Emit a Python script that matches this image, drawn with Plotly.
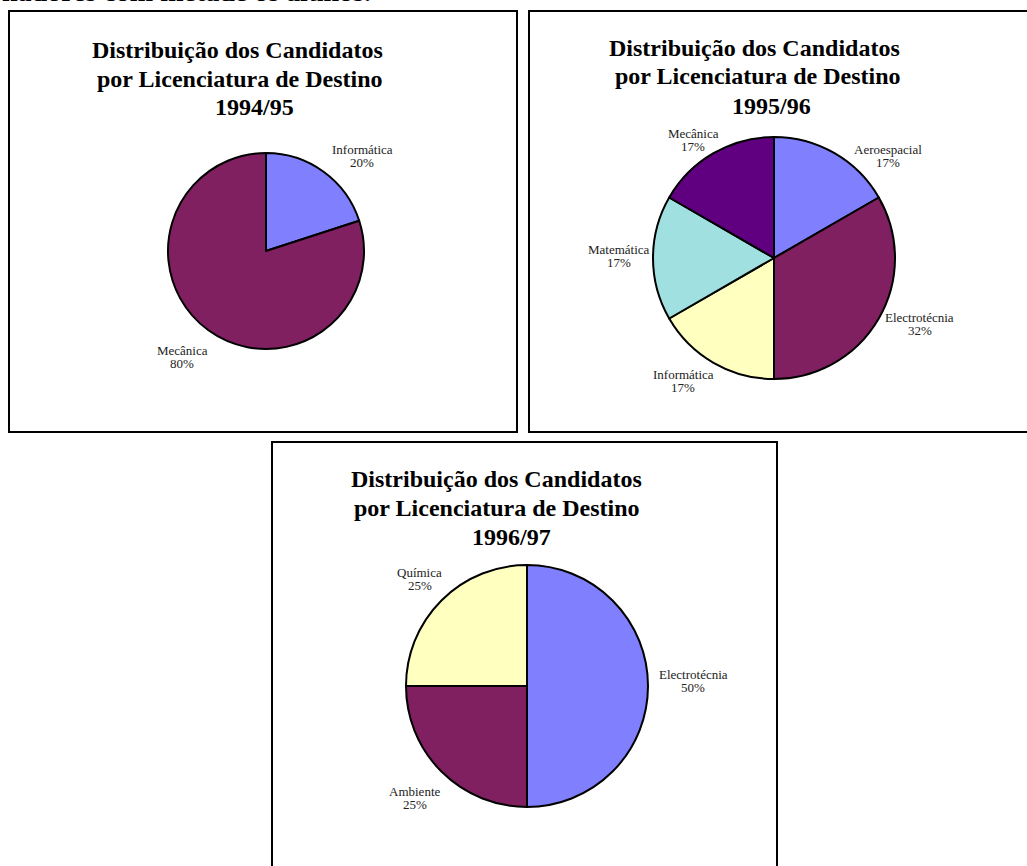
import math
import plotly.graph_objects as go

W, H = 1027, 866

# dados
titulo = ["Distribuição dos Candidatos", "por Licenciatura de Destino"]
anos = ["1994/95", "1995/96", "1996/97"]

cursos_9495 = ["Informática", "Mecânica"]
cand_9495 = [1, 4]
pct_9495 = [20, 80]

cursos_9596 = ["Aeroespacial", "Electrotécnia", "Informática", "Matemática", "Mecânica"]
cand_9596 = [1, 2, 1, 1, 1]
pct_9596 = [17, 32, 17, 17, 17]

cursos_9697 = ["Electrotécnia", "Ambiente", "Química"]
cand_9697 = [2, 1, 1]
pct_9697 = [50, 25, 25]

cores_9495 = ["#8080FF", "#802060"]
cores_9596 = ["#8080FF", "#802060", "#FFFFC0", "#A0E0E0", "#600080"]
cores_9697 = ["#8080FF", "#802060", "#FFFFC0"]


# posições (pixels)
def px(x):
    return x / W


def py(y):
    return 1 - y / H


paineis = [
    dict(cursos=cursos_9495, cand=cand_9495, pct=pct_9495, cores=cores_9495,
         ano=anos[0], c=(266, 251), r=98, tx=(237, 240, 254), ty=(50, 79, 107),
         ajuste=[(11, 6), (-4, 5)]),
    dict(cursos=cursos_9596, cand=cand_9596, pct=pct_9596, cores=cores_9596,
         ano=anos[1], c=(774, 258), r=121, tx=(754, 758, 771), ty=(48, 76, 106),
         ajuste=[(28, 26), (-5, -8), (-7, -5), (10, -2), (-1, 10)]),
    dict(cursos=cursos_9697, cand=cand_9697, pct=pct_9697, cores=cores_9697,
         ano=anos[2], c=(527, 686), r=121, tx=(496, 497, 511), ty=(479, 508, 537),
         ajuste=[(-8, -5), (0, 7), (3, -2)]),
]
caixas = [(9, 11, 517, 432), (529, 11, 1040, 432), (272, 442, 777, 880)]

serif = "Times New Roman, Liberation Serif, serif"

fig = go.Figure()
anots = []


def texto(t, x, y, size, cor="black", xa="center", ya="middle"):
    anots.append(dict(text=t, x=px(x), y=py(y), xref="paper", yref="paper",
                      showarrow=False, xanchor=xa, yanchor=ya,
                      font=dict(family=serif, size=size, color=cor)))


for p in paineis:
    cx, cy = p["c"]
    r = p["r"]
    fig.add_trace(go.Pie(
        labels=p["cursos"], values=p["cand"], sort=False,
        direction="clockwise", rotation=0,
        marker=dict(colors=p["cores"], line=dict(color="black", width=2)),
        textinfo="none", hoverinfo="label+percent", showlegend=False,
        domain=dict(x=[px(cx - r), px(cx + r)], y=[py(cy + r), py(cy - r)]),
    ))

    # títulos
    for txt, x, y in zip(titulo + [p["ano"]], p["tx"], p["ty"]):
        texto("<b>%s</b>" % txt, x, y, 24)

    # rótulos das fatias
    total = sum(p["cand"])
    acum = 0
    for nome, v, pc, (ax, ay) in zip(p["cursos"], p["cand"], p["pct"], p["ajuste"]):
        meio = (acum + v / 2) / total * 2 * math.pi
        acum += v
        dx, dy = math.sin(meio), -math.cos(meio)
        hw, hh = 3.0 * len(nome), 13
        lx = cx + dx * (r + 14 + hw) + ax
        ly = cy + dy * (r + 14 + hh) + ay
        texto(nome, lx, ly - 6.5, 13, "#222222")
        texto("%d%%" % pc, lx, ly + 6.5, 13, "#222222")

# texto cortado no topo da página
texto("<b>nadores com metade os alunos.</b>", 0, 9, 28, xa="left", ya="bottom")

formas = [dict(type="rect", xref="paper", yref="paper",
               x0=px(a), x1=px(c), y0=py(d), y1=py(b),
               line=dict(color="black", width=2), fillcolor="rgba(0,0,0,0)")
          for a, b, c, d in caixas]

fig.update_layout(
    width=W, height=H,
    margin=dict(l=0, r=0, t=0, b=0),
    paper_bgcolor="white", plot_bgcolor="white",
    annotations=anots, shapes=formas,
)

fig.write_html("out.html", config={"displayModeBar": False},
               post_script="document.body.style.margin='0';document.body.style.overflow='hidden';")
